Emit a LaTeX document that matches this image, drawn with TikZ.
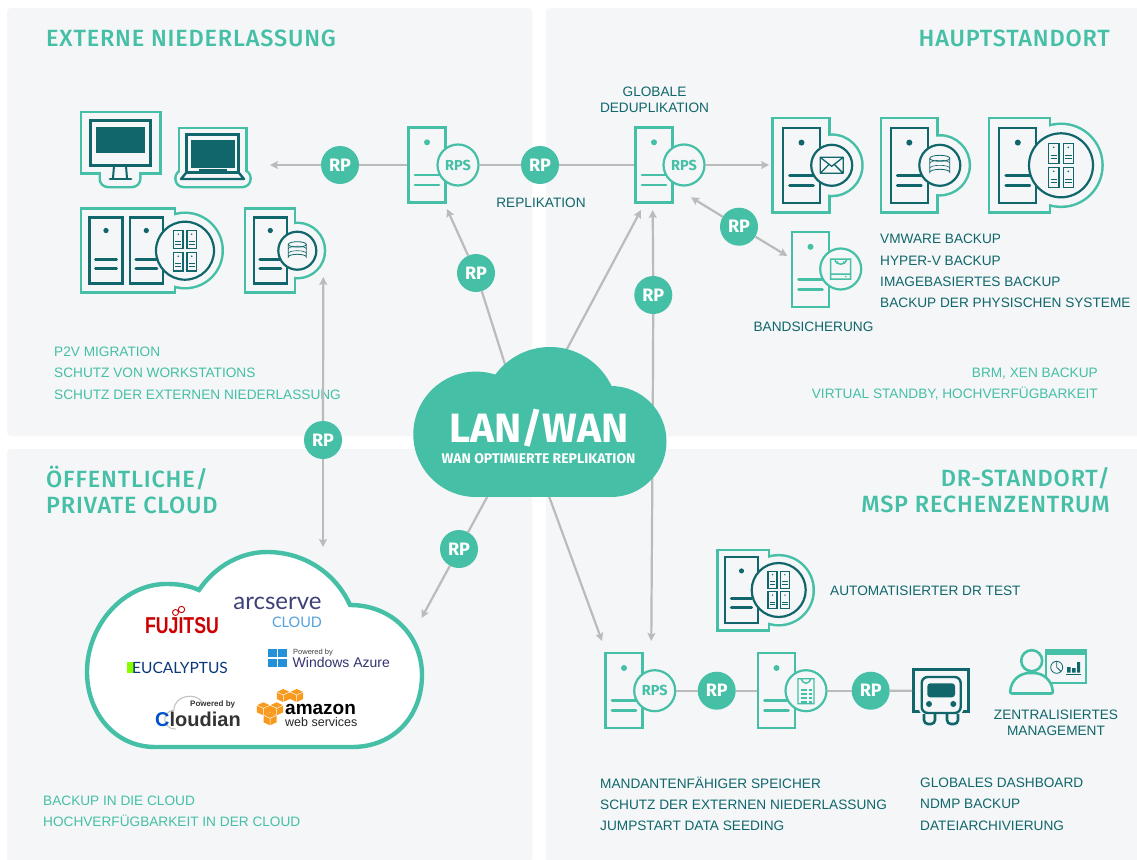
\documentclass[tikz,border=0pt]{standalone}
\usepackage{fontspec}
\setmainfont{Liberation Sans}
\newfontfamily\medfont[LetterSpace=3.5]{Fira Sans Medium}
\newfontfamily\boldfont{Fira Sans}
\newfontfamily\logofont{Lato}
\usetikzlibrary{arrows.meta}

\definecolor{tealdark}{HTML}{10666A}
\definecolor{teallight}{HTML}{45BFA6}
\definecolor{panelgrey}{HTML}{F4F6F8}
\definecolor{wiregrey}{HTML}{BBBBBB}
\definecolor{amazonorange}{HTML}{F79A1E}

\tikzset{
  panel/.style={fill=panelgrey, rounded corners=4pt},
  srvbox/.style={rectangle, draw=#1, fill=panelgrey, line width=2.2pt, minimum width=37pt, minimum height=75pt, inner sep=0pt},
  srvsmall/.style={srvbox=#1, minimum width=33pt, minimum height=66pt},
  ring/.style={circle, draw=#1, fill=panelgrey, line width=2.2pt, minimum size=41pt, inner sep=0pt},
  rp/.style={circle, fill=teallight, text=white, minimum size=38pt, inner sep=0pt, font=\fontsize{18}{18}\boldfont\bfseries},
  rps/.style={ring=teallight, text=teallight, font=\fontsize{14.5}{14.5}\boldfont\bfseries},
  wire/.style={draw=wiregrey, line width=2.2pt},
  arrow/.style={wire, -{Stealth[length=8pt,width=8pt,inset=1.5pt]}},
  headline/.style={text=teallight, align=#1, inner sep=0pt, font=\fontsize{23.5}{26}\medfont},
  headline/.default=left,
  darklist/.style={text=tealdark, align=#1, inner sep=0pt, font=\fontsize{13.65}{21.3}\selectfont},
  darklist/.default=left,
  lightlist/.style={text=teallight, align=#1, inner sep=0pt, font=\fontsize{13.65}{21.3}\selectfont},
  lightlist/.default=left,
  pics/srvmark/.style={code={
    \fill [#1] (0,-22.7) circle [radius=3];
    \draw [#1, line width=2.8pt, line cap=round] (-12,10) -- (12,10) (-12,20) -- (12,20);
  }},
  pics/shield/.style n args={5}{code={
    \draw [teallight, line width=5pt] (#1+1.2,-#3+1.2) rectangle (#2-1.2,#3-1.2);
    \draw [teallight, line width=5pt] (#4,0) circle [radius=#5-1.2];
    \fill [panelgrey] (#1+1.2,-#3+1.2) rectangle (#2-1.2,#3-1.2);
    \fill [panelgrey] (#4,0) circle [radius=#5-1.2];
  }},
  pics/ministack/.style={code={
    \foreach \sx in {-7.3,7.3} \foreach \sy in {-12,12} {
      \draw [tealdark, line width=1.2pt] (\sx-5.2,\sy-10) rectangle (\sx+5.2,\sy+10);
      \fill [tealdark] (\sx,\sy-6) circle [radius=.9];
      \draw [tealdark, line width=.8pt] (\sx-3.2,\sy+2) -- (\sx+3.2,\sy+2) (\sx-3.2,\sy+5) -- (\sx+3.2,\sy+5);
    }
  }},
  pics/dbicon/.style={code={
    \draw [tealdark, line width=.8pt] (-10,-7) -- (-10,7) arc [start angle=180, end angle=360, x radius=10, y radius=3] -- (10,-7);
    \draw [tealdark, line width=.8pt] (0,-7) ellipse [x radius=10, y radius=3];
    \draw [tealdark, line width=.6pt] (-10,-2) arc [start angle=180, end angle=360, x radius=10, y radius=3];
    \draw [tealdark, line width=.6pt] (-10,3) arc [start angle=180, end angle=360, x radius=10, y radius=3];
  }},
  pics/mailicon/.style={code={
    \draw [tealdark, line width=1.3pt, line join=round] (-11.5,-8) rectangle (11.5,8) (-11.5,-8) -- (0,1) -- (11.5,-8) (-11.5,8) -- (-3,-.5) (11.5,8) -- (3,-.5);
  }},
  pics/tapeicon/.style={code={
    \draw [teallight, line width=1.5pt] (-10,-10) rectangle (10,10) (-10,5) -- (10,5) (-6,-10) .. controls (-5,-3) and (5,-3) .. (6,-10);
    \fill [teallight] (5,7.5) circle [radius=.9] (-3,-7) circle [radius=1] (3,-7) circle [radius=1];
  }},
  pics/docicon/.style={code={
    \draw [teallight, line width=1.4pt] (-8,-12) rectangle (8,13) (-5,-12) .. controls (-3,-6) and (3,-6) .. (5,-12);
    \foreach \ly in {-1,3,7,11} \draw [teallight, line width=1.7pt] (-5,\ly) -- (1,\ly) (3,\ly) -- (6,\ly);
  }}
}

\begin{document}
\begin{tikzpicture}[x=1pt, y=-1pt]

  \useasboundingbox (0,0) rectangle (1137,859);
  \fill [white] (0,0) rectangle (1137,859);

  \fill [panel] (7,8) rectangle (532,436);
  \fill [panel] (546,8) rectangle (1150,436);
  \fill [panel] (7,449) rectangle (532,872);
  \fill [panel] (546,449) rectangle (1150,872);

  \node [headline, anchor=west] at (46,38) {EXTERNE NIEDERLASSUNG};
  \node [headline=right, anchor=east] at (1110,38) {HAUPTSTANDORT};
  \node [headline, anchor=west] at (46,490) {ÖFFENTLICHE/\\PRIVATE CLOUD};
  \node [headline=right, anchor=east] at (1110,490) {DR-STANDORT/\\MSP RECHENZENTRUM};

  \node [lightlist, anchor=west] at (54,373) {P2V MIGRATION\\SCHUTZ VON WORKSTATIONS\\SCHUTZ DER EXTERNEN NIEDERLASSUNG};
  \node [lightlist=right, anchor=east] at (1098,384) {BRM, XEN BACKUP\\VIRTUAL STANDBY, HOCHVERFÜGBARKEIT};
  \node [lightlist, anchor=west] at (43,811.5) {BACKUP IN DIE CLOUD\\HOCHVERFÜGBARKEIT IN DER CLOUD};
  \node [darklist, anchor=west] at (880,271) {VMWARE BACKUP\\HYPER-V BACKUP\\IMAGEBASIERTES BACKUP\\BACKUP DER PHYSISCHEN SYSTEME};
  \node [darklist, anchor=west] at (600,804) {MANDANTENFÄHIGER SPEICHER\\SCHUTZ DER EXTERNEN NIEDERLASSUNG\\JUMPSTART DATA SEEDING};
  \node [darklist, anchor=west] at (920,804) {GLOBALES DASHBOARD\\NDMP BACKUP\\DATEIARCHIVIERUNG};
  \node [darklist=center, font=\fontsize{13.65}{16}\selectfont] at (654.5,100) {GLOBALE\\DEDUPLIKATION};
  \node [darklist] at (541,203) {REPLIKATION};
  \node [darklist] at (813.5,327) {BANDSICHERUNG};
  \node [darklist, anchor=west] at (830,591) {AUTOMATISIERTER DR TEST};
  \node [darklist=center, font=\fontsize{13.65}{16}\selectfont] at (1056,723) {ZENTRALISIERTES\\MANAGEMENT};

  \node (rpsA) [srvbox=teallight] at (427,165) {};
  \pic at (rpsA) {srvmark=teallight};
  \node (ringA) [rps] at (458,165) {RPS};
  \node (rpsB) [srvbox=teallight] at (654,165) {};
  \pic at (rpsB) {srvmark=teallight};
  \node (ringB) [rps] at (684,165) {RPS};
  \node (tapeS) [srvbox=teallight] at (810.5,269.5) {};
  \pic at (tapeS) {srvmark=teallight};
  \node (ringT) [ring=teallight] at (840.7,269) {};
  \pic at (ringT) {tapeicon};
  \node (rpsC) [srvbox=teallight] at (624,690.7) {};
  \pic at (rpsC) {srvmark=teallight};
  \node (ringC) [rps] at (654.7,690.7) {RPS};
  \node (docS) [srvbox=teallight] at (776.5,690.7) {};
  \pic at (docS) {srvmark=teallight};
  \node (ringD) [ring=teallight] at (806,690.7) {};
  \pic at (ringD) {docicon};

  \pic at (801.5,165.3) {shield={-28.8}{27.8}{47.2}{30.2}{30.7}};
  \node (mailS) [srvbox=tealdark] at (801.5,165.3) {};
  \pic at (mailS) {srvmark=tealdark};
  \node (ringM) [ring=tealdark] at (831.7,165.3) {};
  \pic at (ringM) {mailicon};

  \pic at (909.3,165.3) {shield={-28.3}{28}{47.2}{30.5}{30}};
  \node (dbS) [srvbox=tealdark] at (909.3,165.3) {};
  \pic at (dbS) {srvmark=tealdark};
  \node (ringN) [ring=tealdark] at (939.8,165.3) {};
  \pic at (ringN) {dbicon};

  \pic at (1017.8,165.3) {shield={-28.8}{32.2}{47.2}{43.2}{41.5}};
  \node (hostS) [srvbox=tealdark] at (1017.8,165.3) {};
  \pic at (hostS) {srvmark=tealdark};
  \node (ringH) [ring=tealdark, minimum size=64pt] at (1061,165.3) {};
  \pic at (ringH) {ministack};

  \pic at (741.5,590.2) {shield={-23.8}{27.2}{40}{37.2}{35}};
  \node (drS) [srvsmall=tealdark] at (741.5,590.2) {};
  \pic [scale=.85] at (drS) {srvmark=tealdark};
  \node (ringR) [ring=tealdark, minimum size=54pt] at (778.7,590) {};
  \pic [scale=.85] at (ringR) {ministack};

  \pic at (106,250.5) {shield={-25}{69}{41.8}{79}{37.7}};
  \node (twoL) [srvsmall=tealdark] at (106,250.5) {};
  \pic [scale=.88] at (twoL) {srvmark=tealdark};
  \node (twoR) [srvsmall=tealdark] at (146.3,250.5) {};
  \pic [scale=.88] at (twoR) {srvmark=tealdark};
  \node (ringL) [ring=tealdark, minimum size=58pt] at (185,250.7) {};
  \pic [scale=.92] at (ringL) {ministack};

  \pic at (270.3,250.5) {shield={-25.3}{24.7}{41.8}{27}{27.7}};
  \node (oneL) [srvsmall=tealdark] at (270.3,250.5) {};
  \pic [scale=.88] at (oneL) {srvmark=tealdark};
  \node (ringO) [ring=tealdark, minimum size=38pt] at (297.3,250.7) {};
  \pic [scale=.9] at (ringO) {dbicon};

  \draw [teallight, line width=5pt] (82,113) rectangle (159,172);
  \draw [teallight, line width=5pt, rounded corners=7pt] (101,166) rectangle (139,185.8);
  \fill [panelgrey] (82,113) rectangle (159,172);
  \fill [panelgrey, rounded corners=7pt] (101,166) rectangle (139,185.8);
  \node (monitor) [draw=tealdark, line width=2.6pt, minimum width=60pt, minimum height=45pt, inner sep=0pt, fill=panelgrey] at (120.3,143) {};
  \fill [tealdark] (95.7,126.7) rectangle (145,153.3);
  \draw [tealdark, line width=2pt] (114,166) -- (113,178) (126,166) -- (127,178);
  \draw [tealdark, line width=2.6pt, line cap=round] (110,179) -- (131,179);

  \draw [teallight, line width=5pt] (180,129.2) rectangle (245,175);
  \draw [teallight, line width=5pt, rounded corners=7pt] (176.7,171.2) rectangle (249.3,185.8);
  \fill [panelgrey] (180,129.2) rectangle (245,175);
  \fill [panelgrey, rounded corners=7pt] (176.7,171.2) rectangle (249.3,185.8);
  \node (laptop) [draw=tealdark, line width=2.4pt, minimum width=52pt, minimum height=38pt, inner sep=0pt] at (212.5,153.5) {};
  \fill [tealdark] (190.7,140) rectangle (235,168);
  \fill [tealdark] (199,169) rectangle (227,174);
  \draw [tealdark, line width=2.4pt, line join=round] (186,173) -- (181,179) -- (244,179) -- (239,173);

  \node (cargo) [draw=tealdark, fill=panelgrey, line width=3pt, minimum width=55pt, minimum height=42pt, inner sep=0pt] at (941.2,690.8) {};
  \draw [panelgrey, fill=panelgrey, line width=6pt, rounded corners=6pt] (921.7,676.7) rectangle (960.7,713.3);
  \node (truck) [draw=tealdark, fill=panelgrey, line width=2.4pt, rounded corners=6pt, minimum width=39pt, minimum height=36pt, inner sep=0pt] at (941.2,695) {};
  \fill [tealdark, rounded corners=3pt] (927.3,697.3) -- (927.3,683.3) -- (955,683.3) -- (955,697.3) -- cycle;
  \fill [tealdark] (929,704) circle [radius=3];
  \fill [tealdark] (953.3,704) circle [radius=3];
  \draw [tealdark, line width=2.6pt, rounded corners=4pt] (924,714) -- (924,724) -- (935,724) -- (935,714);
  \draw [tealdark, line width=2.6pt, rounded corners=4pt] (947,714) -- (947,724) -- (958,724) -- (958,714);

  \node (screen) [draw=teallight, fill=panelgrey, line width=2pt, minimum width=40pt, minimum height=33pt, inner sep=0pt] at (1065.5,666.7) {};
  \fill [teallight] (1045,650) rectangle (1086,655);
  \draw [tealdark, line width=.8pt] (1056.7,667.3) circle [radius=6] -- (1056.7,661.3) (1056.7,667.3) -- (1061,671.5);
  \fill [tealdark] (1067,667) rectangle (1070.5,672.5) (1072,668) rectangle (1075.5,672.5) (1077,662) rectangle (1080,672.5);
  \draw [tealdark, line width=.8pt] (1066,674.5) -- (1081,674.5);
  \draw [teallight, fill=panelgrey, line width=2.6pt, rounded corners=2pt] (1010,693.5) .. controls (1011,680) and (1020,673) .. (1031.5,673) .. controls (1043,673) and (1052,680) .. (1053,693.5) -- cycle;
  \node (head) [circle, draw=teallight, fill=panelgrey, line width=2.6pt, minimum size=21pt, inner sep=0pt] at (1031.7,660.7) {};

  \node (rpA) [rp] at (340,165) {RP};
  \node (rpB) [rp] at (540,165) {RP};
  \node (rpC) [rp] at (739,226.7) {RP};
  \node (rpD) [rp] at (476,273) {RP};
  \node (rpE) [rp] at (653.3,295) {RP};
  \node (rpF) [rp] at (323,440) {RP};
  \node (rpG) [rp] at (459,549) {RP};
  \node (rpH) [rp] at (716.7,690.7) {RP};
  \node (rpI) [rp] at (870.7,690.7) {RP};

  \coordinate (tipA) at (270,165);
  \coordinate (tipB) at (769,165);
  \coordinate (tipC) at (691,197.3);
  \coordinate (tipD) at (787.3,256);
  \coordinate (tipE) at (447,209);
  \coordinate (tipF) at (641,210);
  \coordinate (tipG) at (652.7,210);
  \coordinate (tipH) at (651.3,641);
  \coordinate (tipI) at (323.3,277);
  \coordinate (tipJ) at (323,547);
  \coordinate (tipK) at (421.5,618);
  \coordinate (tipL) at (602,641);
  \coordinate (lanA) at (510,380);
  \coordinate (lanB) at (560,362);
  \coordinate (lanC) at (652.7,420);
  \coordinate (lanD) at (492,488);
  \coordinate (lanE) at (546,488);

  \draw [arrow] (rpA) -- (tipA);
  \draw [wire] (rpA) -- (rpsA);
  \draw [wire] (ringA) -- (rpB);
  \draw [wire] (rpB) -- (rpsB);
  \draw [arrow] (ringB) -- (tipB);
  \draw [arrow] (rpC) -- (tipC);
  \draw [arrow] (rpC) -- (tipD);
  \draw [arrow] (rpD) -- (tipE);
  \draw [wire] (lanA) -- (rpD);
  \draw [arrow] (lanB) -- (tipF);
  \draw [arrow] (rpE) -- (tipG);
  \draw [wire] (lanC) -- (rpE);
  \draw [arrow] (lanC) -- (tipH);
  \draw [arrow] (rpF) -- (tipI);
  \draw [arrow] (rpF) -- (tipJ);
  \draw [arrow] (rpG) -- (tipK);
  \draw [wire] (lanD) -- (rpG);
  \draw [arrow] (lanE) -- (tipL);
  \draw [wire] (ringC) -- (rpH);
  \draw [wire] (rpH) -- (docS);
  \draw [wire] (ringD) -- (rpI);
  \draw [wire] (rpI) -- (cargo);

  \fill [teallight] (476,434.3) circle [radius=62.7];
  \fill [teallight] (550,415) circle [radius=68];
  \fill [teallight] (611,441.5) circle [radius=55.5];
  \fill [teallight] (476,440) rectangle (611,497);
  \node (lan) [text=white, font=\fontsize{41}{41}\boldfont\bfseries] at (539,428) {LAN/WAN};
  \node (lantext) [text=white, font=\fontsize{14}{14}\boldfont\bfseries] at (538.5,459) {WAN OPTIMIERTE REPLIKATION};

  \draw [teallight, fill=white, line width=4.4pt] (199,590) .. controls (216,565) and (242,552) .. (267,552) .. controls (305,552) and (336,574) .. (350,605) .. controls (392,605) and (422,636) .. (422,675) .. controls (422,716) and (394,747) .. (352,747) -- (155,747) .. controls (115,747) and (87,713) .. (87,672) .. controls (87,625) and (124,583) .. (168,584) .. controls (179,584) and (190,586) .. (199,590) -- cycle;

  \node (fujitsu) [text=red!80!black, inner sep=0pt, font=\fontsize{23}{23}\bfseries] at (182,626) {\scalebox{.77}[1]{FUJITSU}};
  \draw [red!80!black, line width=.9pt] (175.5,612.5) circle [radius=3] (181.5,609.5) circle [radius=3.2];
  \node (arcserve) [text=blue!30!black!75, inner sep=0pt, font=\fontsize{24}{24}\logofont] at (277.5,603) {arcserve};
  \node (arccloud) [text=cyan!70!blue!70, inner sep=0pt, font=\fontsize{14.5}{14.5}\logofont] at (297,622) {CLOUD};
  \fill [lime!70!green] (127,662) rectangle (134,673);
  \node (eucalyptus) [text=tealdark!70!blue!80!black, inner sep=0pt, font=\fontsize{15.5}{15.5}\logofont] at (180,667.5) {EUCALYPTUS};
  \foreach \wx in {267.5,278} \foreach \wy in {648.5,658.5} \fill [cyan!70!blue!90] (\wx,\wy) rectangle (\wx+9,\wy+8.5);
  \node (powered) [anchor=west, inner sep=0pt, text=black!75, font=\fontsize{7.5}{7.5}\selectfont] at (293,652.5) {Powered by};
  \node (azure) [anchor=west, inner sep=0pt, text=blue!30!black!80, font=\fontsize{14}{14}\selectfont] at (292.5,662) {Windows Azure};
  \draw [black!25, line width=1pt] (176,729) .. controls (163,730) and (160,712) .. (174,710) .. controls (174,695) and (196,692) .. (202,702);
  \node (poweredB) [anchor=west, inner sep=0pt, text=black!80, font=\fontsize{8}{8}\bfseries] at (190,704.5) {Powered by};
  \node (cloudian) [anchor=west, inner sep=0pt, text=black!80, font=\fontsize{20}{20}\bfseries] at (155,719) {\textcolor{blue!60!cyan!80!black}{C}loudian};
  \foreach \cx/\cy in {283.3/695,296.7/695,263.3/708.3,276.7/708.3,270/718.3} {
    \fill [amazonorange] (\cx,\cy-6) -- (\cx+6.5,\cy-3) -- (\cx+6.5,\cy+4) -- (\cx,\cy+7) -- (\cx-6.5,\cy+4) -- (\cx-6.5,\cy-3) -- cycle;
    \draw [white, line width=.5pt] (\cx-6.5,\cy-3) -- (\cx,\cy) -- (\cx+6.5,\cy-3) (\cx,\cy) -- (\cx,\cy+7);
  }
  \node (amazon) [anchor=west, inner sep=0pt, text=black, font=\fontsize{19}{19}\bfseries] at (285,709) {amazon};
  \node (webserv) [anchor=west, inner sep=0pt, text=black!85, font=\fontsize{12.5}{12.5}\selectfont] at (285,722.5) {web services};

\end{tikzpicture}
\end{document}
